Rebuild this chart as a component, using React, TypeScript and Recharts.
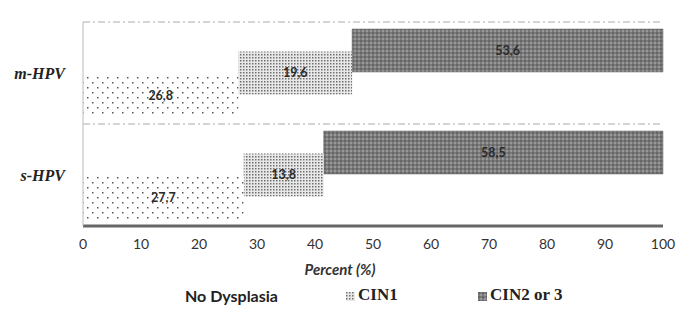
import React from 'react';
import { BarChart, Bar, XAxis, YAxis, CartesianGrid, LabelList, Legend } from 'recharts';

const categories = ['m-HPV', 's-HPV'];
const noDysplasia = [26.8, 27.7];
const cin1 = [19.6, 13.8];
const cin2or3 = [53.6, 58.5];
const xTicks = [0, 10, 20, 30, 40, 50, 60, 70, 80, 90, 100];

const data = categories.map((cat, i) => {
  const a = noDysplasia[i];
  const b = a + cin1[i];
  return {
    cat,
    nd: [0, a],
    c1: [a, b],
    c2: [b, b + cin2or3[i]],
    ndVal: noDysplasia[i],
    c1Val: cin1[i],
    c2Val: cin2or3[i],
  };
});

const fmt = (v: any) => String(v).replace('.', ',');

const labelStyle = { fontFamily: 'Lato, sans-serif', fontWeight: 700, fontSize: 12.5, fill: '#2a2a2a' };

const renderLegend = () => (
  <div style={{ position: 'relative', width: 687, height: 24 }}>
    <span style={{ position: 'absolute', left: 185, top: 2, fontFamily: 'Lato, sans-serif', fontWeight: 700, fontSize: 16, color: '#222' }}>
      No Dysplasia
    </span>
    <svg style={{ position: 'absolute', left: 346, top: 8 }} width={9} height={9}>
      <rect width={9} height={9} fill="url(#patC1)" />
    </svg>
    <span style={{ position: 'absolute', left: 358, top: 1, fontFamily: '"Liberation Serif", serif', fontWeight: 700, fontSize: 17, color: '#222' }}>
      CIN1
    </span>
    <svg style={{ position: 'absolute', left: 478, top: 8 }} width={9} height={9}>
      <rect width={9} height={9} fill="url(#patC2)" />
    </svg>
    <span style={{ position: 'absolute', left: 490, top: 1, fontFamily: '"Liberation Serif", serif', fontWeight: 700, fontSize: 17, color: '#222' }}>
      CIN2 or 3
    </span>
  </div>
);

export default function App() {
  return (
    <div style={{ position: 'absolute', left: 0, top: 0, width: 687, height: 310, background: '#fff' }}>
      <BarChart
        width={687}
        height={310}
        data={data}
        layout="vertical"
        margin={{ top: 22, right: 24, bottom: 0, left: 0 }}
        barSize={43}
        barGap={-20.5}
      >
        <defs>
          <pattern id="patND" width={10} height={10} patternUnits="userSpaceOnUse">
            <rect width={10} height={10} fill="#fff" />
            <rect x={2} y={2} width={1.5} height={1.5} fill="#555" />
            <rect x={7} y={7} width={1.5} height={1.5} fill="#555" />
          </pattern>
          <pattern id="patC1" width={3} height={3} patternUnits="userSpaceOnUse">
            <rect width={3} height={3} fill="#e8e8e8" />
            <rect x={0} y={0} width={1.5} height={1.5} fill="#707070" />
          </pattern>
          <pattern id="patC2" width={4} height={4} patternUnits="userSpaceOnUse">
            <rect width={4} height={4} fill="#7a7a7a" />
            <rect x={0} y={0} width={2} height={2} fill="#666" />
            <rect x={2} y={2} width={2} height={2} fill="#979797" />
          </pattern>
        </defs>
        <CartesianGrid
          vertical={false}
          stroke="#aaa"
          strokeDasharray="7 3 2 3"
          horizontalCoordinatesGenerator={({ offset }: any) => [
            offset.top,
            offset.top + offset.height / 2,
          ]}
        />
        <XAxis
          type="number"
          domain={[0, 100]}
          ticks={xTicks}
          height={84}
          tickLine={false}
          tickSize={0}
          tickMargin={13}
          axisLine={{ stroke: '#666', strokeWidth: 3 }}
          tick={{ fontFamily: 'Lato, sans-serif', fontSize: 14, fill: '#333' }}
          label={({ viewBox }: any) => (
            <text
              x={viewBox.x + viewBox.width / 2 - 33}
              y={viewBox.y + 49}
              textAnchor="middle"
              fontFamily="Lato, sans-serif"
              fontWeight={700}
              fontStyle="italic"
              fontSize={15}
              fill="#333"
            >
              Percent (%)
            </text>
          )}
        />
        <YAxis
          type="category"
          dataKey="cat"
          width={83}
          tickLine={false}
          tickSize={0}
          tickMargin={18}
          axisLine={{ stroke: '#bbb' }}
          tick={{ fontFamily: '"Liberation Serif", serif', fontWeight: 700, fontStyle: 'italic', fontSize: 16, fill: '#222' }}
        />
        <Legend
          layout="horizontal"
          verticalAlign="middle"
          align="center"
          content={renderLegend}
          wrapperStyle={{ position: 'absolute', left: 0, top: 284, width: 687 }}
        />
        <Bar dataKey="c2" fill="url(#patC2)" stroke="#666" strokeWidth={0.5} isAnimationActive={false}>
          <LabelList dataKey="c2Val" position="center" formatter={fmt} style={labelStyle} />
        </Bar>
        <Bar dataKey="c1" fill="url(#patC1)" isAnimationActive={false}>
          <LabelList dataKey="c1Val" position="center" formatter={fmt} style={labelStyle} />
        </Bar>
        <Bar dataKey="nd" fill="url(#patND)" isAnimationActive={false}>
          <LabelList dataKey="ndVal" position="center" formatter={fmt} style={labelStyle} />
        </Bar>
      </BarChart>
    </div>
  );
}
